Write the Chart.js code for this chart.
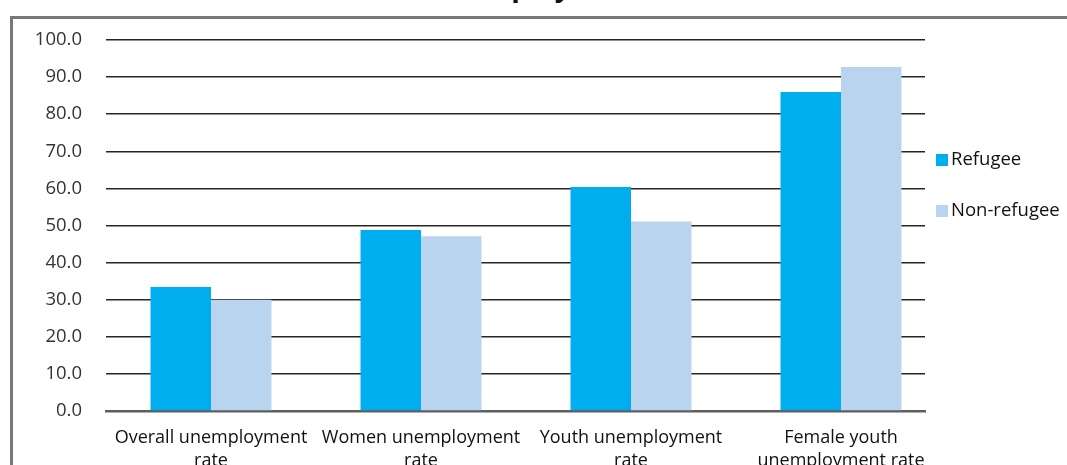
<!DOCTYPE html>
<html>
<head>
<meta charset="utf-8">
<script src="https://cdn.jsdelivr.net/npm/chart.js@4.4.1/dist/chart.umd.min.js"></script>
<style>
	body { margin: 0; background: #fff; overflow: hidden; }
	#wrap { position: relative; width: 1067px; height: 465px; overflow: hidden; font-family: "Open Sans", sans-serif; }
	#frame { position: absolute; left: 10px; top: 16px; width: 1100px; height: 500px; border-left: 3px solid #787878; border-top: 3px solid #787878; }
	#title { position: absolute; left: 0; top: -29px; width: 1094px; text-align: center; font-size: 28px; line-height: 28px; font-weight: bold; color: #111; }
	#chart { position: absolute; left: 0; top: 0; }
	#legend { position: absolute; left: 936px; top: 145px; }
	#legend ul { list-style: none; margin: 0; padding: 0; }
	#legend li { height: 26px; line-height: 26px; margin-bottom: 25px; font-size: 18.5px; color: #111; white-space: nowrap; }
	#legend span { display: inline-block; width: 12px; height: 12px; margin-right: 3px; vertical-align: -1px; }
</style>
</head>
<body>
<div id="wrap">
	<div id="title">The Unemployment rates</div>
	<div id="frame"></div>
	<canvas id="chart" width="1067" height="465"></canvas>
	<div id="legend"></div>
</div>
<script>
	// 카테고리 / 시리즈 값
	const categories = [
		["Overall unemployment", "rate"],
		["Women unemployment", "rate"],
		["Youth unemployment", "rate"],
		["Female youth", "unemployment rate"]
	];
	const refugee = [33.4, 48.8, 60.4, 86.0];
	const nonRefugee = [30.0, 47.1, 51.1, 92.7];
	const seriesNames = ["Refugee", "Non-refugee"];
	const yTicks = [0, 10, 20, 30, 40, 50, 60, 70, 80, 90, 100];

	let toPoints = function(values) {
		return values.map(function(v, i) {
			return { x: i, y: v };
		});
	}

	let ctx = document.getElementById('chart');

	let barChart = new Chart(ctx, {
		type: 'bar',
		data: {
			datasets: [{
				label: seriesNames[0],
				data: toPoints(refugee),
				backgroundColor: '#00aeef'
			}, {
				label: seriesNames[1],
				data: toPoints(nonRefugee),
				backgroundColor: '#b8d4ef'
			}]
		},
		options: {
			responsive: false,
			animation: false,
			categoryPercentage: 0.576,
			barPercentage: 1.0,
			layout: {
				padding: { left: 0, right: 142, top: 40, bottom: 0 }
			},
			plugins: {
				legend: { display: false },
				tooltip: { enabled: false }
			},
			scales: {
				x: {
					type: 'linear',
					offset: false,
					min: -0.5,
					max: 3.4,
					grid: { display: false },
					border: { display: true, color: '#5e5e5e', width: 2.5 },
					ticks: {
						stepSize: 1,
						includeBounds: false,
						autoSkip: false,
						maxRotation: 0,
						padding: 8,
						color: '#111',
						font: { family: '"Open Sans", sans-serif', size: 18, lineHeight: 1.25 },
						callback: function(value) {
							return Number.isInteger(value) ? categories[value] : '';
						}
					},
					afterFit: function(scale) {
						scale.height = 54;
					}
				},
				y: {
					min: 0,
					max: 100,
					grid: {
						color: '#262626',
						lineWidth: 1.5,
						drawTicks: false
					},
					border: { display: false },
					afterBuildTicks: function(scale) {
						scale.ticks = yTicks.map(function(v) { return { value: v }; });
					},
					ticks: {
						padding: 24,
						color: '#333',
						font: { family: '"Open Sans", sans-serif', size: 18.5 },
						callback: function(value) {
							return value.toFixed(1);
						}
					},
					afterFit: function(scale) {
						scale.width = 106;
					}
				}
			}
		}
	});

	// 범례 - html로 별도 출력
	let tag = [];
	tag.push('<ul>');
	barChart.data.datasets.forEach(function(ds) {
		tag.push('<li><span style="background-color:' + ds.backgroundColor + '"></span>' + ds.label + '</li>');
	});
	tag.push('</ul>');
	document.getElementById('legend').innerHTML = tag.join('');
</script>
</body>
</html>
